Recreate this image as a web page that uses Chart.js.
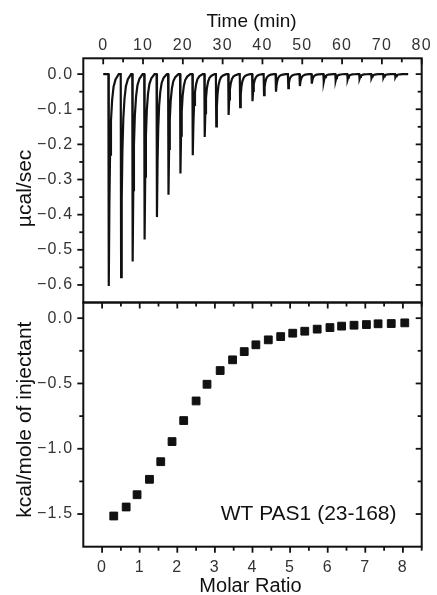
<!DOCTYPE html>
<html>
<head>
<meta charset="utf-8">
<title>ITC - WT PAS1 (23-168)</title>
<script src="https://cdn.jsdelivr.net/npm/chart.js@4.4.1/dist/chart.umd.min.js"></script>
<style>
    html, body { margin: 0; padding: 0; background: #fff; }
    #wrap { position: relative; width: 437px; height: 595px; }
</style>
</head>
<body>
<div id="wrap"><canvas id="itcChart" width="437" height="595"></canvas></div>
<script>
// Raw thermogram: time of each injection peak (min) and its depth (ucal/sec)
const injectionTimes = [1.4, 4.5, 7.4, 10.4, 13.5, 16.4, 19.4, 22.5, 25.5, 28.4, 31.5, 34.4, 37.5,
    40.4, 43.4, 46.5, 49.4, 52.4, 55.4, 58.4, 61.4, 64.4, 67.4, 70.4, 73.4];
const peakDepths = [-0.603, -0.578, -0.533, -0.471, -0.407, -0.343, -0.283, -0.231, -0.179, -0.149,
    -0.116, -0.094, -0.077, -0.060, -0.050, -0.040, -0.034, -0.027, -0.022, -0.018,
    -0.015, -0.013, -0.011, -0.010, -0.009];
// shape of one peak (min from peak, fraction of depth)
const peakOffsets = [-0.1, 0, 0.15, 0.32, 0.55, 0.85, 1.2, 1.7, 2.5];
const peakFractions = [0, 1, 0.62, 0.38, 0.22, 0.12, 0.06, 0.025, 0];
const traceStart = 0;
const traceEnd = 76.6;

// Integrated heats
const molarRatio = [0.31, 0.64, 0.93, 1.26, 1.56, 1.86, 2.17, 2.50, 2.79, 3.14, 3.47, 3.78, 4.09,
    4.42, 4.75, 5.07, 5.39, 5.72, 6.06, 6.37, 6.70, 7.03, 7.34, 7.69, 8.05];
const heatPerInjection = [-1.515, -1.446, -1.352, -1.234, -1.099, -0.945, -0.784, -0.634, -0.506,
    -0.401, -0.319, -0.256, -0.204, -0.166, -0.141, -0.115, -0.100, -0.084, -0.072,
    -0.061, -0.054, -0.049, -0.043, -0.041, -0.036];

// Tick labels
const timeTicks = [0, 10, 20, 30, 40, 50, 60, 70, 80];
const rawTicks = [0, -0.1, -0.2, -0.3, -0.4, -0.5, -0.6];
const ratioTicks = [0, 1, 2, 3, 4, 5, 6, 7, 8];
const heatTicks = [0, -0.5, -1.0, -1.5];

const sampleLabel = 'WT PAS1 (23-168)';

const INK = '#111';
const LABEL_INK = '#333';
const FAMILY = "'Liberation Sans', Arial, sans-serif";
const tickFont = { family: FAMILY, size: 16 };

// build the thermogram line from the peaks
const tracePoints = [{ x: traceStart, y: 0 }];
injectionTimes.forEach((t, i) => {
    peakOffsets.forEach((dt, k) => {
        tracePoints.push({ x: t + dt, y: peakDepths[i] * peakFractions[k] });
    });
});
tracePoints.push({ x: traceEnd, y: 0 });

const heatPoints = molarRatio.map((x, i) => ({ x: x, y: heatPerInjection[i] }));

function fixedTicks(list) {
    return function(scale) {
        scale.ticks = list.map(v => ({ value: v }));
    };
}

function oneDecimal(value) {
    if (value === 0) return '0.0';
    return (value < 0 ? '\u2212' : '') + Math.abs(value).toFixed(1);
}

function midpoints(list) {
    const out = [];
    for (let i = 1; i < list.length; i++) out.push((list[i - 1] + list[i]) / 2);
    return out;
}

// tick labels in the original are a little spaced out
const spacedLabels = {
    id: 'spacedLabels',
    beforeDraw(chart) { chart.ctx.letterSpacing = '1.2px'; },
    beforeDatasetsDraw(chart) { chart.ctx.letterSpacing = '0px'; }
};

// frames, tick marks, titles and the sample label
const panelFrame = {
    id: 'panelFrame',
    afterDraw(chart) {
        const ctx = chart.ctx;
        const area = chart.chartArea;
        const s = chart.scales;
        const left = area.left, right = area.right;

        ctx.save();
        ctx.letterSpacing = '0px';
        ctx.strokeStyle = INK;
        ctx.lineCap = 'butt';

        const line = (x1, y1, x2, y2) => {
            ctx.beginPath();
            ctx.moveTo(x1, y1);
            ctx.lineTo(x2, y2);
            ctx.stroke();
        };

        // vertical ticks: left outward, right inward
        const yTicks = (scale, majors) => {
            const minors = midpoints(majors);
            ctx.lineWidth = 1.8;
            majors.concat(minors).forEach(v => {
                const y = scale.getPixelForValue(v);
                const len = majors.includes(v) ? 6 : 4;
                line(left - len, y, left, y);
                line(right - len, y, right, y);
            });
        };
        yTicks(s.yTop, rawTicks);
        yTicks(s.yBot, heatTicks);

        // time axis: inward from the top of the upper panel
        midpoints(timeTicks).concat(timeTicks).forEach(v => {
            const x = s.xTime.getPixelForValue(v);
            const len = timeTicks.includes(v) ? 6 : 4;
            line(x, s.yTop.top, x, s.yTop.top + len);
        });

        // molar ratio: inward at the top of the lower panel, outward at the bottom
        midpoints(ratioTicks).concat(ratioTicks, [8.5]).forEach(v => {
            const x = s.xRatio.getPixelForValue(v);
            const len = ratioTicks.includes(v) ? 6 : 4;
            line(x, s.yBot.top, x, s.yBot.top + len);
            line(x, s.yBot.bottom, x, s.yBot.bottom + len);
        });

        // panel frames
        ctx.lineWidth = 2;
        [s.yTop, s.yBot].forEach(y => {
            ctx.strokeRect(left, y.top, right - left, y.bottom - y.top);
        });

        // titles
        ctx.fillStyle = INK;
        ctx.textBaseline = 'middle';
        ctx.textAlign = 'center';
        const midX = (left + right) / 2;
        ctx.font = '19px ' + FAMILY;
        ctx.fillText('Time (min)', midX - 1, 21.5);
        ctx.font = '20px ' + FAMILY;
        ctx.fillText('Molar Ratio', midX - 2, 586);

        ctx.font = '21px ' + FAMILY;
        const yTitle = (text, y) => {
            ctx.save();
            ctx.translate(25.5, y);
            ctx.rotate(-Math.PI / 2);
            ctx.fillText(text, 0, 0);
            ctx.restore();
        };
        yTitle('\u00b5cal/sec', (s.yTop.top + s.yTop.bottom) / 2 + 8);
        yTitle('kcal/mole of injectant', (s.yBot.top + s.yBot.bottom) / 2 - 5);

        // sample label
        ctx.textAlign = 'right';
        ctx.font = '21px ' + FAMILY;
        ctx.fillText(sampleLabel, s.xRatio.getPixelForValue(7.83), s.yBot.getPixelForValue(-1.5));

        ctx.restore();
    }
};

const axisCommon = {
    type: 'linear',
    grid: { display: false, drawTicks: false },
    border: { display: false }
};

new Chart(document.getElementById('itcChart'), {
    type: 'scatter',
    data: {
        datasets: [{
            label: 'Raw heat',
            data: tracePoints,
            xAxisID: 'xTime',
            yAxisID: 'yTop',
            showLine: true,
            borderColor: INK,
            borderWidth: 2.2,
            pointRadius: 0,
            tension: 0
        }, {
            label: 'Integrated heat',
            data: heatPoints,
            xAxisID: 'xRatio',
            yAxisID: 'yBot',
            pointStyle: 'rect',
            pointRadius: 5.5,
            backgroundColor: INK,
            borderColor: INK,
            borderWidth: 1
        }]
    },
    options: {
        responsive: false,
        animation: false,
        events: [],
        layout: { padding: { top: 0, right: 15.3, bottom: 0, left: 0 } },
        plugins: {
            legend: { display: false },
            tooltip: { enabled: false }
        },
        scales: {
            xTime: Object.assign({}, axisCommon, {
                position: 'top',
                min: -5,
                max: 80,
                afterBuildTicks: fixedTicks(timeTicks),
                afterFit: scale => { scale.height = 58.3; },
                ticks: { font: tickFont, color: LABEL_INK, padding: 3.5, maxRotation: 0, autoSkip: false }
            }),
            xRatio: Object.assign({}, axisCommon, {
                position: 'bottom',
                min: -0.5,
                max: 8.5,
                afterBuildTicks: fixedTicks(ratioTicks),
                afterFit: scale => { scale.height = 48.3; },
                ticks: { font: tickFont, color: LABEL_INK, padding: 11, maxRotation: 0, autoSkip: false }
            }),
            yTop: Object.assign({}, axisCommon, {
                position: 'left',
                stack: 'panels',
                stackWeight: 1,
                weight: 1,
                min: -0.65,
                max: 0.045,
                afterBuildTicks: fixedTicks(rawTicks),
                afterFit: scale => { scale.width = 83.3; },
                ticks: { font: tickFont, color: LABEL_INK, padding: 10, autoSkip: false, callback: oneDecimal }
            }),
            yBot: Object.assign({}, axisCommon, {
                position: 'left',
                stack: 'panels',
                stackWeight: 1,
                weight: 0,
                min: -1.75,
                max: 0.12,
                afterBuildTicks: fixedTicks(heatTicks),
                afterFit: scale => { scale.width = 83.3; },
                ticks: { font: tickFont, color: LABEL_INK, padding: 10, autoSkip: false, callback: oneDecimal }
            })
        }
    },
    plugins: [spacedLabels, panelFrame]
});
</script>
</body>
</html>
